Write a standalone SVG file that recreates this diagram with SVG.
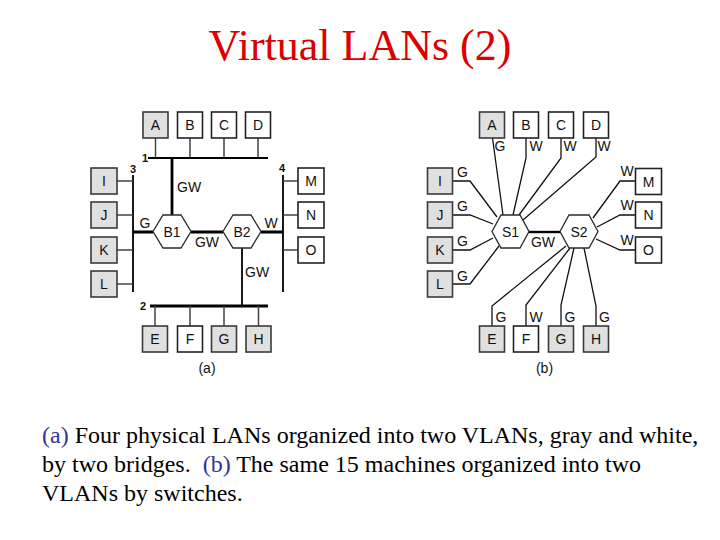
<svg xmlns="http://www.w3.org/2000/svg" width="720" height="540" viewBox="0 0 720 540">
<style>
.box{stroke:#222;stroke-width:1.6}
.g{fill:#e0e0e0;stroke:#3a3a3a}
.w{fill:#ffffff}
.hex{fill:#ffffff;stroke:#2a2a2a;stroke-width:1.3}
.t{font-family:"Liberation Sans",Arial,sans-serif;font-size:14px;fill:#111;text-anchor:middle}
.lbl{font-family:"Liberation Sans",Arial,sans-serif;font-size:14px;fill:#111}
.num{font-family:"Liberation Sans",Arial,sans-serif;font-size:11px;font-weight:bold;fill:#111;text-anchor:middle}
.stub{stroke:#444;stroke-width:1.5;fill:none}
.bus{stroke:#000;stroke-width:2.2;fill:none}
.thick{stroke:#000;stroke-width:2.8;fill:none}
.ln{stroke:#111;stroke-width:1.3;fill:none}
.cap{font-family:"Liberation Serif","Times New Roman",serif;font-size:24px;fill:#000}
.blue{fill:#333399}
</style>
<rect width="720" height="540" fill="#fff"/>
<text x="360" y="60" font-family="Liberation Serif, Times New Roman, serif" font-size="44" fill="#dc0000" text-anchor="middle">Virtual LANs (2)</text>

<g id="connectors">
  <!-- (a) -->
  <path class="stub" d="M155.5 138V158M190 138V158M224 138V158M258 138V158"/>
  <path class="bus" d="M148 158H268"/>
  <path class="thick" d="M172 158V215"/>
  <path class="bus" d="M133 175V292M283 175V292" style="stroke-width:1.8"/>
  <path class="stub" d="M117 181H133M117 215H133M117 250H133M117 284H133"/>
  <path class="stub" d="M283 181H298M283 215H298M283 250H298"/>
  <path class="thick" d="M133 232H153M191 232H223M261 232H283"/>
  <path class="bus" d="M242 248V306" style="stroke-width:1.8"/>
  <path class="thick" d="M150 306H268"/>
  <path class="stub" d="M155 306V326M190 306V326M224 306V326M258.5 306V326"/>
  <!-- (b) -->
  <path class="ln" d="M492.5 138L503 215M526 138V158L513 215M561 138V158L519 215M596 138V157L523 220"/>
  <path class="ln" d="M452.5 181H470L497 217M452.5 215H470L493 224M452.5 250H470L493 238M452.5 284H470L499 246"/>
  <path class="ln" d="M635.5 181H620L593 218M635.5 215H620L597 227M635.5 250H620L596 239"/>
  <path class="ln" d="M492 326V306L566 246M526 326V305L570 248M561 326V305L574 248M596 326V306L584 248"/>
  <path class="thick" d="M529 232H560" style="stroke-width:2.4"/>
</g>

<g id="labels-a">
  <text class="num" x="145" y="162">1</text>
  <text class="num" x="133" y="173">3</text>
  <text class="num" x="282" y="172">4</text>
  <text class="num" x="143" y="310">2</text>
  <text class="lbl" x="177" y="192">GW</text>
  <text class="t" x="145" y="228">G</text>
  <text class="t" x="271" y="228">W</text>
  <text class="t" x="207" y="246.5">GW</text>
  <text class="lbl" x="245" y="277">GW</text>
  <text class="t" x="207" y="373">(a)</text>
</g>
<g id="labels-b">
  <text class="t" x="500" y="151">G</text>
  <text class="t" x="536" y="151">W</text>
  <text class="t" x="570" y="151">W</text>
  <text class="t" x="604" y="151">W</text>
  <text class="t" x="462.5" y="176.5">G</text>
  <text class="t" x="462.5" y="211">G</text>
  <text class="t" x="462.5" y="245.5">G</text>
  <text class="t" x="462.5" y="280.5">G</text>
  <text class="t" x="627" y="175.5">W</text>
  <text class="t" x="627" y="209.5">W</text>
  <text class="t" x="627" y="244.5">W</text>
  <text class="t" x="501" y="321.5">G</text>
  <text class="t" x="536" y="321.5">W</text>
  <text class="t" x="570" y="321.5">G</text>
  <text class="t" x="604.5" y="321.5">G</text>
  <text class="t" x="543" y="246.5">GW</text>
  <text class="t" x="544.5" y="373">(b)</text>
</g>

<!-- (a) nodes -->
<g id="a-A"><rect class="box g" x="143" y="112" width="25" height="26"/><text class="t" x="155.5" y="130">A</text></g>
<g id="a-B"><rect class="box w" x="177.5" y="112" width="25" height="26"/><text class="t" x="190" y="130">B</text></g>
<g id="a-C"><rect class="box w" x="211.5" y="112" width="25" height="26"/><text class="t" x="224" y="130">C</text></g>
<g id="a-D"><rect class="box w" x="245.5" y="112" width="25" height="26"/><text class="t" x="258" y="130">D</text></g>
<g id="a-I"><rect class="box g" x="91" y="168" width="26" height="26"/><text class="t" x="104" y="186">I</text></g>
<g id="a-J"><rect class="box g" x="91" y="202" width="26" height="26"/><text class="t" x="104" y="220">J</text></g>
<g id="a-K"><rect class="box g" x="91" y="237" width="26" height="26"/><text class="t" x="104" y="255">K</text></g>
<g id="a-L"><rect class="box g" x="91" y="271" width="26" height="26"/><text class="t" x="104" y="289">L</text></g>
<g id="a-M"><rect class="box w" x="298" y="168" width="26" height="26"/><text class="t" x="311" y="186">M</text></g>
<g id="a-N"><rect class="box w" x="298" y="202" width="26" height="26"/><text class="t" x="311" y="220">N</text></g>
<g id="a-O"><rect class="box w" x="298" y="237" width="26" height="26"/><text class="t" x="311" y="255">O</text></g>
<g id="a-E"><rect class="box g" x="142.5" y="326" width="25" height="26"/><text class="t" x="155" y="344">E</text></g>
<g id="a-F"><rect class="box w" x="177.5" y="326" width="25" height="26"/><text class="t" x="190" y="344">F</text></g>
<g id="a-G"><rect class="box g" x="211.5" y="326" width="25" height="26"/><text class="t" x="224" y="344">G</text></g>
<g id="a-H"><rect class="box g" x="246" y="326" width="25" height="26"/><text class="t" x="258.5" y="344">H</text></g>
<g id="B1"><polygon class="hex" points="153,231.5 163,215 181,215 191,231.5 181,248 163,248"/><text class="t" x="172" y="236.5">B1</text></g>
<g id="B2"><polygon class="hex" points="223,231.5 233,215 251,215 261,231.5 251,248 233,248"/><text class="t" x="242" y="236.5">B2</text></g>

<!-- (b) nodes -->
<g id="b-A"><rect class="box g" x="479.5" y="112" width="25" height="26"/><text class="t" x="492" y="130">A</text></g>
<g id="b-B"><rect class="box w" x="513.5" y="112" width="25" height="26"/><text class="t" x="526" y="130">B</text></g>
<g id="b-C"><rect class="box w" x="548.5" y="112" width="25" height="26"/><text class="t" x="561" y="130">C</text></g>
<g id="b-D"><rect class="box w" x="583.5" y="112" width="25" height="26"/><text class="t" x="596" y="130">D</text></g>
<g id="b-I"><rect class="box g" x="427.5" y="168" width="25" height="26"/><text class="t" x="440" y="186">I</text></g>
<g id="b-J"><rect class="box g" x="427.5" y="202" width="25" height="26"/><text class="t" x="440" y="220">J</text></g>
<g id="b-K"><rect class="box g" x="427.5" y="237" width="25" height="26"/><text class="t" x="440" y="255">K</text></g>
<g id="b-L"><rect class="box g" x="427.5" y="271" width="25" height="26"/><text class="t" x="440" y="289">L</text></g>
<g id="b-M"><rect class="box w" x="635.5" y="168.5" width="26" height="26"/><text class="t" x="648.5" y="186.5">M</text></g>
<g id="b-N"><rect class="box w" x="635.5" y="202" width="26" height="26"/><text class="t" x="648.5" y="220">N</text></g>
<g id="b-O"><rect class="box w" x="635.5" y="237" width="26" height="26"/><text class="t" x="648.5" y="255">O</text></g>
<g id="b-E"><rect class="box g" x="479.5" y="326" width="25" height="26"/><text class="t" x="492" y="344">E</text></g>
<g id="b-F"><rect class="box w" x="513.5" y="326" width="25" height="26"/><text class="t" x="526" y="344">F</text></g>
<g id="b-G"><rect class="box g" x="548.5" y="326" width="25" height="26"/><text class="t" x="561" y="344">G</text></g>
<g id="b-H"><rect class="box g" x="583.5" y="326" width="25" height="26"/><text class="t" x="596" y="344">H</text></g>
<g id="S1"><polygon class="hex" points="492,231.5 501,215 520,215 529,231.5 520,248 501,248"/><text class="t" x="510.5" y="236.5">S1</text></g>
<g id="S2"><polygon class="hex" points="560,231.5 569,215 589,215 598,231.5 589,248 569,248"/><text class="t" x="579" y="236.5">S2</text></g>

<g id="caption">
  <text class="cap" x="42" y="443"><tspan class="blue">(a)</tspan> Four physical LANs organized into two VLANs, gray and white,</text>
  <text class="cap" x="42" y="472">by two bridges.&#160; <tspan class="blue">(b)</tspan> The same 15 machines organized into two</text>
  <text class="cap" x="42" y="501">VLANs by switches.</text>
</g>
</svg>
